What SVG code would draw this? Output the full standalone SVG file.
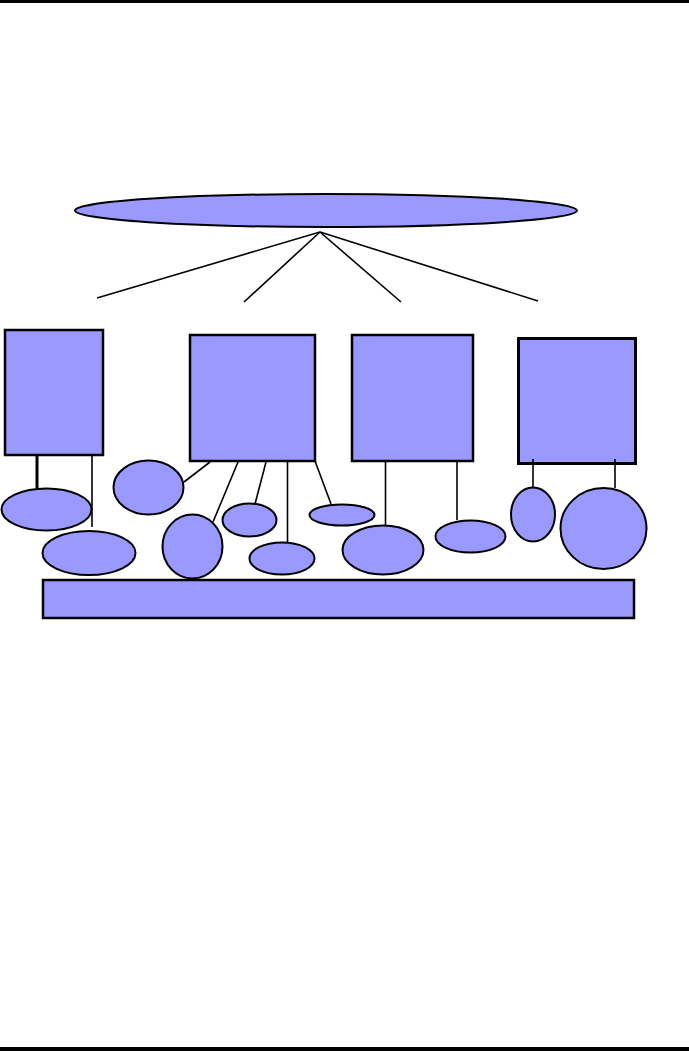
<svg xmlns="http://www.w3.org/2000/svg" width="689" height="1051" viewBox="0 0 689 1051">
<style>
.s{fill:#9999FF;stroke:#000;stroke-width:2}
.c line{stroke:#000;stroke-width:1.6}
</style>
<rect x="0" y="0" width="689" height="1051" fill="#fff"/>
<rect x="0" y="0" width="689" height="3" fill="#000"/>
<rect x="0" y="1047" width="689" height="4" fill="#000"/>
<g id="top"><ellipse class="s" cx="326" cy="210.5" rx="251" ry="16.5"/></g>
<g id="box1"><rect class="s" x="5" y="330" width="98" height="125" style="stroke-width:2.5"/></g>
<g id="box2"><rect class="s" x="190" y="335" width="125" height="126" style="stroke-width:2.5"/></g>
<g id="box3"><rect class="s" x="352" y="335" width="121" height="126" style="stroke-width:2.5"/></g>
<g id="box4"><rect class="s" x="518.5" y="338.5" width="117" height="125" style="stroke-width:3"/></g>
<g id="connectors" class="c">
<line x1="320" y1="232" x2="97" y2="298"/>
<line x1="320" y1="232" x2="244" y2="302"/>
<line x1="320" y1="232" x2="401" y2="302"/>
<line x1="320" y1="232" x2="538" y2="301"/>
<line x1="37" y1="456" x2="37" y2="488" style="stroke-width:3"/>
<line x1="92" y1="456" x2="92" y2="527"/>
<line x1="210" y1="462" x2="184" y2="482"/>
<line x1="238" y1="462" x2="213" y2="522"/>
<line x1="266" y1="462" x2="255" y2="504"/>
<line x1="287.5" y1="462" x2="287.5" y2="542"/>
<line x1="315" y1="461" x2="331" y2="504"/>
<line x1="385.5" y1="462" x2="385.5" y2="526"/>
<line x1="457" y1="462" x2="457" y2="520"/>
<line x1="533" y1="459" x2="533" y2="488"/>
<line x1="615" y1="459" x2="615" y2="488"/>
</g>
<g id="e1"><ellipse class="s" cx="46.5" cy="509.5" rx="45" ry="21"/></g>
<g id="e2"><ellipse class="s" cx="89" cy="553" rx="46.5" ry="22"/></g>
<g id="e3"><ellipse class="s" cx="148.5" cy="487.5" rx="35" ry="27"/></g>
<g id="e4"><ellipse class="s" cx="192.5" cy="546.5" rx="30" ry="32"/></g>
<g id="e5"><ellipse class="s" cx="249.5" cy="520" rx="27" ry="16.5"/></g>
<g id="e6"><ellipse class="s" cx="282" cy="558.5" rx="32.5" ry="16"/></g>
<g id="e7"><ellipse class="s" cx="342" cy="515" rx="32.5" ry="10.5"/></g>
<g id="e8"><ellipse class="s" cx="383" cy="550" rx="40.5" ry="24.5"/></g>
<g id="e9"><ellipse class="s" cx="470.5" cy="536.5" rx="35" ry="16"/></g>
<g id="e10"><ellipse class="s" cx="533" cy="514.5" rx="22" ry="27"/></g>
<g id="e11"><ellipse class="s" cx="603.5" cy="528.5" rx="43" ry="40.5"/></g>
<g id="bar"><rect class="s" x="43" y="580" width="591" height="38" style="stroke-width:2.5"/></g>
</svg>
